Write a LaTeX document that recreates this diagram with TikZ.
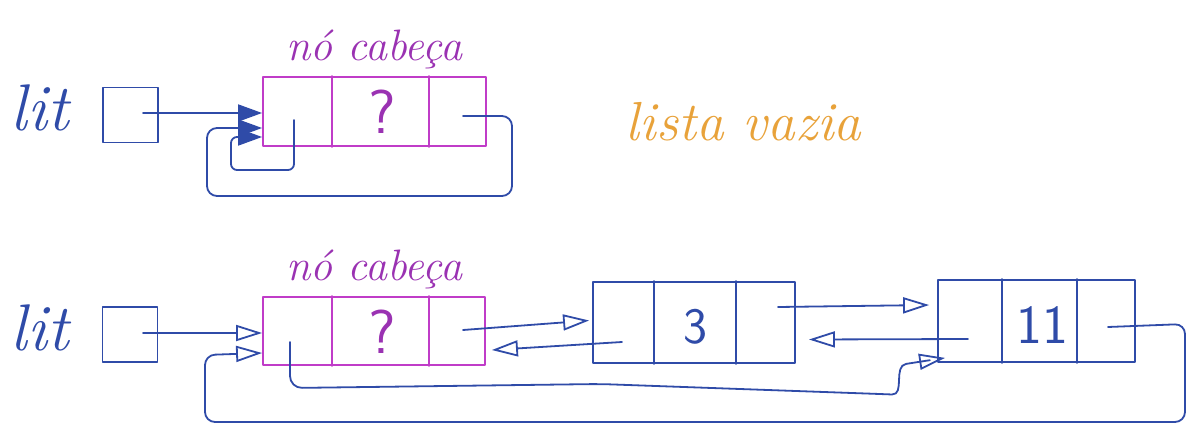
\documentclass[tikz,border=0pt]{standalone}
\usepackage{fontspec}
\usetikzlibrary{arrows.meta}
\definecolor{ink}{HTML}{2F4BA8}
\definecolor{mag}{HTML}{C03CC8}
\definecolor{lbl}{HTML}{9A32B2}
\definecolor{org}{HTML}{E8A23A}
\begin{document}
\begin{tikzpicture}[x=1pt,y=-1pt,line width=1.8pt,line cap=round,line join=round,
  ptrbox/.style={draw=ink,inner sep=0pt,minimum width=55pt,minimum height=55pt},
  headbox/.style={draw=mag,inner sep=0pt,minimum width=222pt,minimum height=69pt},
  listbox/.style={draw=ink,inner sep=0pt},
  wire/.style={draw=ink},
  fullhead/.style={wire,-{Triangle[length=24pt,width=17pt]}},
  openhead/.style={wire,-{Triangle[open,length=26pt,width=16pt]}},
  hand/.style={inner sep=0pt,font=\itshape\fontsize{#1}{#1}\selectfont},
  val/.style={inner sep=0pt,anchor=base,font=\sffamily\fontsize{#1}{#1}\selectfont}]
\useasboundingbox (0,0) rectangle (1193,428);

% ---------- top: empty list ----------
\node[hand=66,anchor=base west,text=ink] (lit1) at (10,130) {lit};
\node[ptrbox] (l1) at (130.5,115) {};
\node[headbox,minimum width=223pt] (h1) at (374.5,111.5) {};
\draw[mag] ([xshift=70pt]h1.north west) -- ([xshift=70pt]h1.south west);
\draw[mag] ([xshift=167pt]h1.north west) -- ([xshift=167pt]h1.south west);
\node[val=62,text=lbl] (q1) at (382,133) {?};
\node[hand=44,anchor=base,text=lbl] (lab1) at (374,60) {nó cabeça};
\node[hand=55,anchor=base west,text=org] (title) at (625,140) {lista vazia};

\coordinate (l1p) at (143,113);
\coordinate (h1a) at (294,120);
\coordinate (h1c) at (463,116);
\draw[fullhead] (l1p) -- (l1p -| h1.west);
\draw[fullhead,rounded corners=10pt] (h1c) -- (512,116) -- (512,196) -- (207,196) -- (207,128) -- ([yshift=-16.5pt]h1.west);
\draw[fullhead,rounded corners=6pt] (h1a) -- (294,170) -- (231,170) -- (231,137) -- ([yshift=-25.5pt]h1.west);

% ---------- bottom: list 3, 11 ----------
\node[hand=66,anchor=base west,text=ink] (lit2) at (10,350) {lit};
\node[ptrbox] (l2) at (130,334.5) {};
\node[headbox,minimum height=68pt] (h2) at (374,331) {};
\draw[mag] ([xshift=70pt]h2.north west) -- ([xshift=70pt]h2.south west);
\draw[mag] ([xshift=167pt]h2.north west) -- ([xshift=167pt]h2.south west);
\node[val=62,text=lbl] (q2) at (382,353) {?};
\node[hand=44,anchor=base,text=lbl] (lab2) at (374,280) {nó cabeça};

\node[listbox,minimum width=202pt,minimum height=81pt] (n3) at (694,322.5) {};
\draw[ink] ([xshift=62pt]n3.north west) -- ([xshift=62pt]n3.south west);
\draw[ink] ([xshift=144pt]n3.north west) -- ([xshift=144pt]n3.south west);
\node[val=51,text=ink] (v3) at (695,343) {3};

\node[listbox,minimum width=197pt,minimum height=82pt] (n11) at (1036.5,321) {};
\draw[ink] ([xshift=65pt]n11.north west) -- ([xshift=65pt]n11.south west);
\draw[ink] ([xshift=140pt]n11.north west) -- ([xshift=140pt]n11.south west);
\node[val=55,text=ink] (v11) at (1042,343) {11};

\coordinate (l2p) at (143,333);
\coordinate (h2a) at (290,342);
\coordinate (h2c) at (463,330);
\coordinate (n3a) at (622,342);
\coordinate (n3c) at (778,307);
\coordinate (n11a) at (968,339);
\coordinate (n11c) at (1108,327);

\draw[openhead] (l2p) -- (l2p -| h2.west);
\draw[openhead,rounded corners=10pt] (n11c) -- (1185,324) -- (1185,422) -- (205,422) -- (205,355) -- ([yshift=-22pt]h2.west);
\draw[openhead,rounded corners=12pt] (h2a) -- (290,388) -- (600,384) -- (880,394) .. controls (905,395) and (893,366) .. (918,362) -- ([xshift=8pt,yshift=5pt]n11.south west);
\draw[openhead] (h2c) -- ([xshift=-3pt,yshift=2pt]n3.west);
\draw[openhead] (n3a) -- ([xshift=6pt,yshift=-19pt]h2.east);
\draw[openhead] (n3c) -- ([xshift=-8pt,yshift=16pt]n11.west);
\draw[openhead] (n11a) -- ([xshift=13pt,yshift=-17pt]n3.east);
\end{tikzpicture}
\end{document}
